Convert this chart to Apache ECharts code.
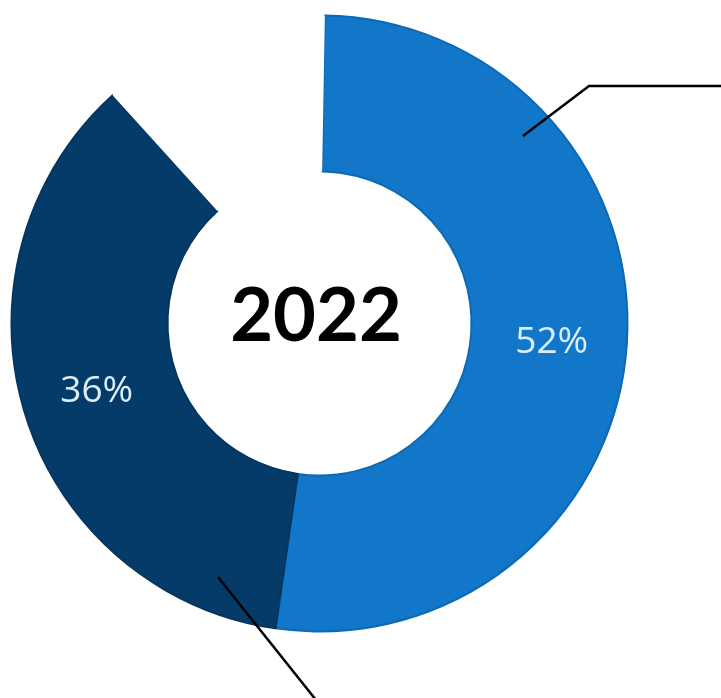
<!DOCTYPE html>
<html>
<head>
<meta charset="utf-8">
<script src="https://cdn.jsdelivr.net/npm/echarts@6/dist/echarts.min.js"></script>
<style>
  html, body { margin: 0; padding: 0; background: #fff; }
  #main { width: 721px; height: 698px; }
</style>
</head>
<body>
<div id="main"></div>
<script>
var names = ['A', 'B', 'C']
var values = [52, 36, 12]
var colors = ['#1277c9', '#053b68', '#ffffff']
var yearLabel = '2022'

var chart = echarts.init(document.getElementById('main'), null, { renderer: 'canvas' })

var data = values.map(function (v, i) {
  return {
    name: names[i],
    value: v,
    itemStyle: {
      color: colors[i],
      borderColor: i == 0 ? '#0d69b4' : (i == 1 ? '#05365f' : '#ffffff'),
      borderWidth: i == 2 ? 0 : 2
    },
    label: { show: i != 2 }
  }
})

var option = {
  backgroundColor: '#ffffff',
  animation: false,
  series: [{
    type: 'pie',
    center: [319.5, 323.5],
    radius: [152, 308],
    startAngle: 89,
    clockwise: true,
    silent: true,
    label: {
      position: 'inside',
      formatter: '{c}%',
      color: '#dcedfa',
      fontFamily: 'Open Sans',
      fontSize: 37
    },
    labelLine: { show: false },
    data: data
  }],
  graphic: [
    {
      type: 'text',
      x: 316, y: 317,
      z: 100,
      style: {
        text: yearLabel,
        fontFamily: 'Lato',
        fontWeight: 'bold',
        fontSize: 74,
        fill: '#000',
        textAlign: 'center',
        textVerticalAlign: 'middle'
      }
    },
    // leader lines (annotation)
    {
      type: 'polyline',
      z: 100,
      shape: { points: [[523, 136], [589, 86], [721, 86]] },
      style: { stroke: '#000', lineWidth: 2.5, fill: null }
    },
    {
      type: 'polyline',
      z: 100,
      shape: { points: [[218, 577], [316, 700]] },
      style: { stroke: '#000', lineWidth: 2.5, fill: null }
    }
  ]
}

chart.setOption(option)
</script>
</body>
</html>
